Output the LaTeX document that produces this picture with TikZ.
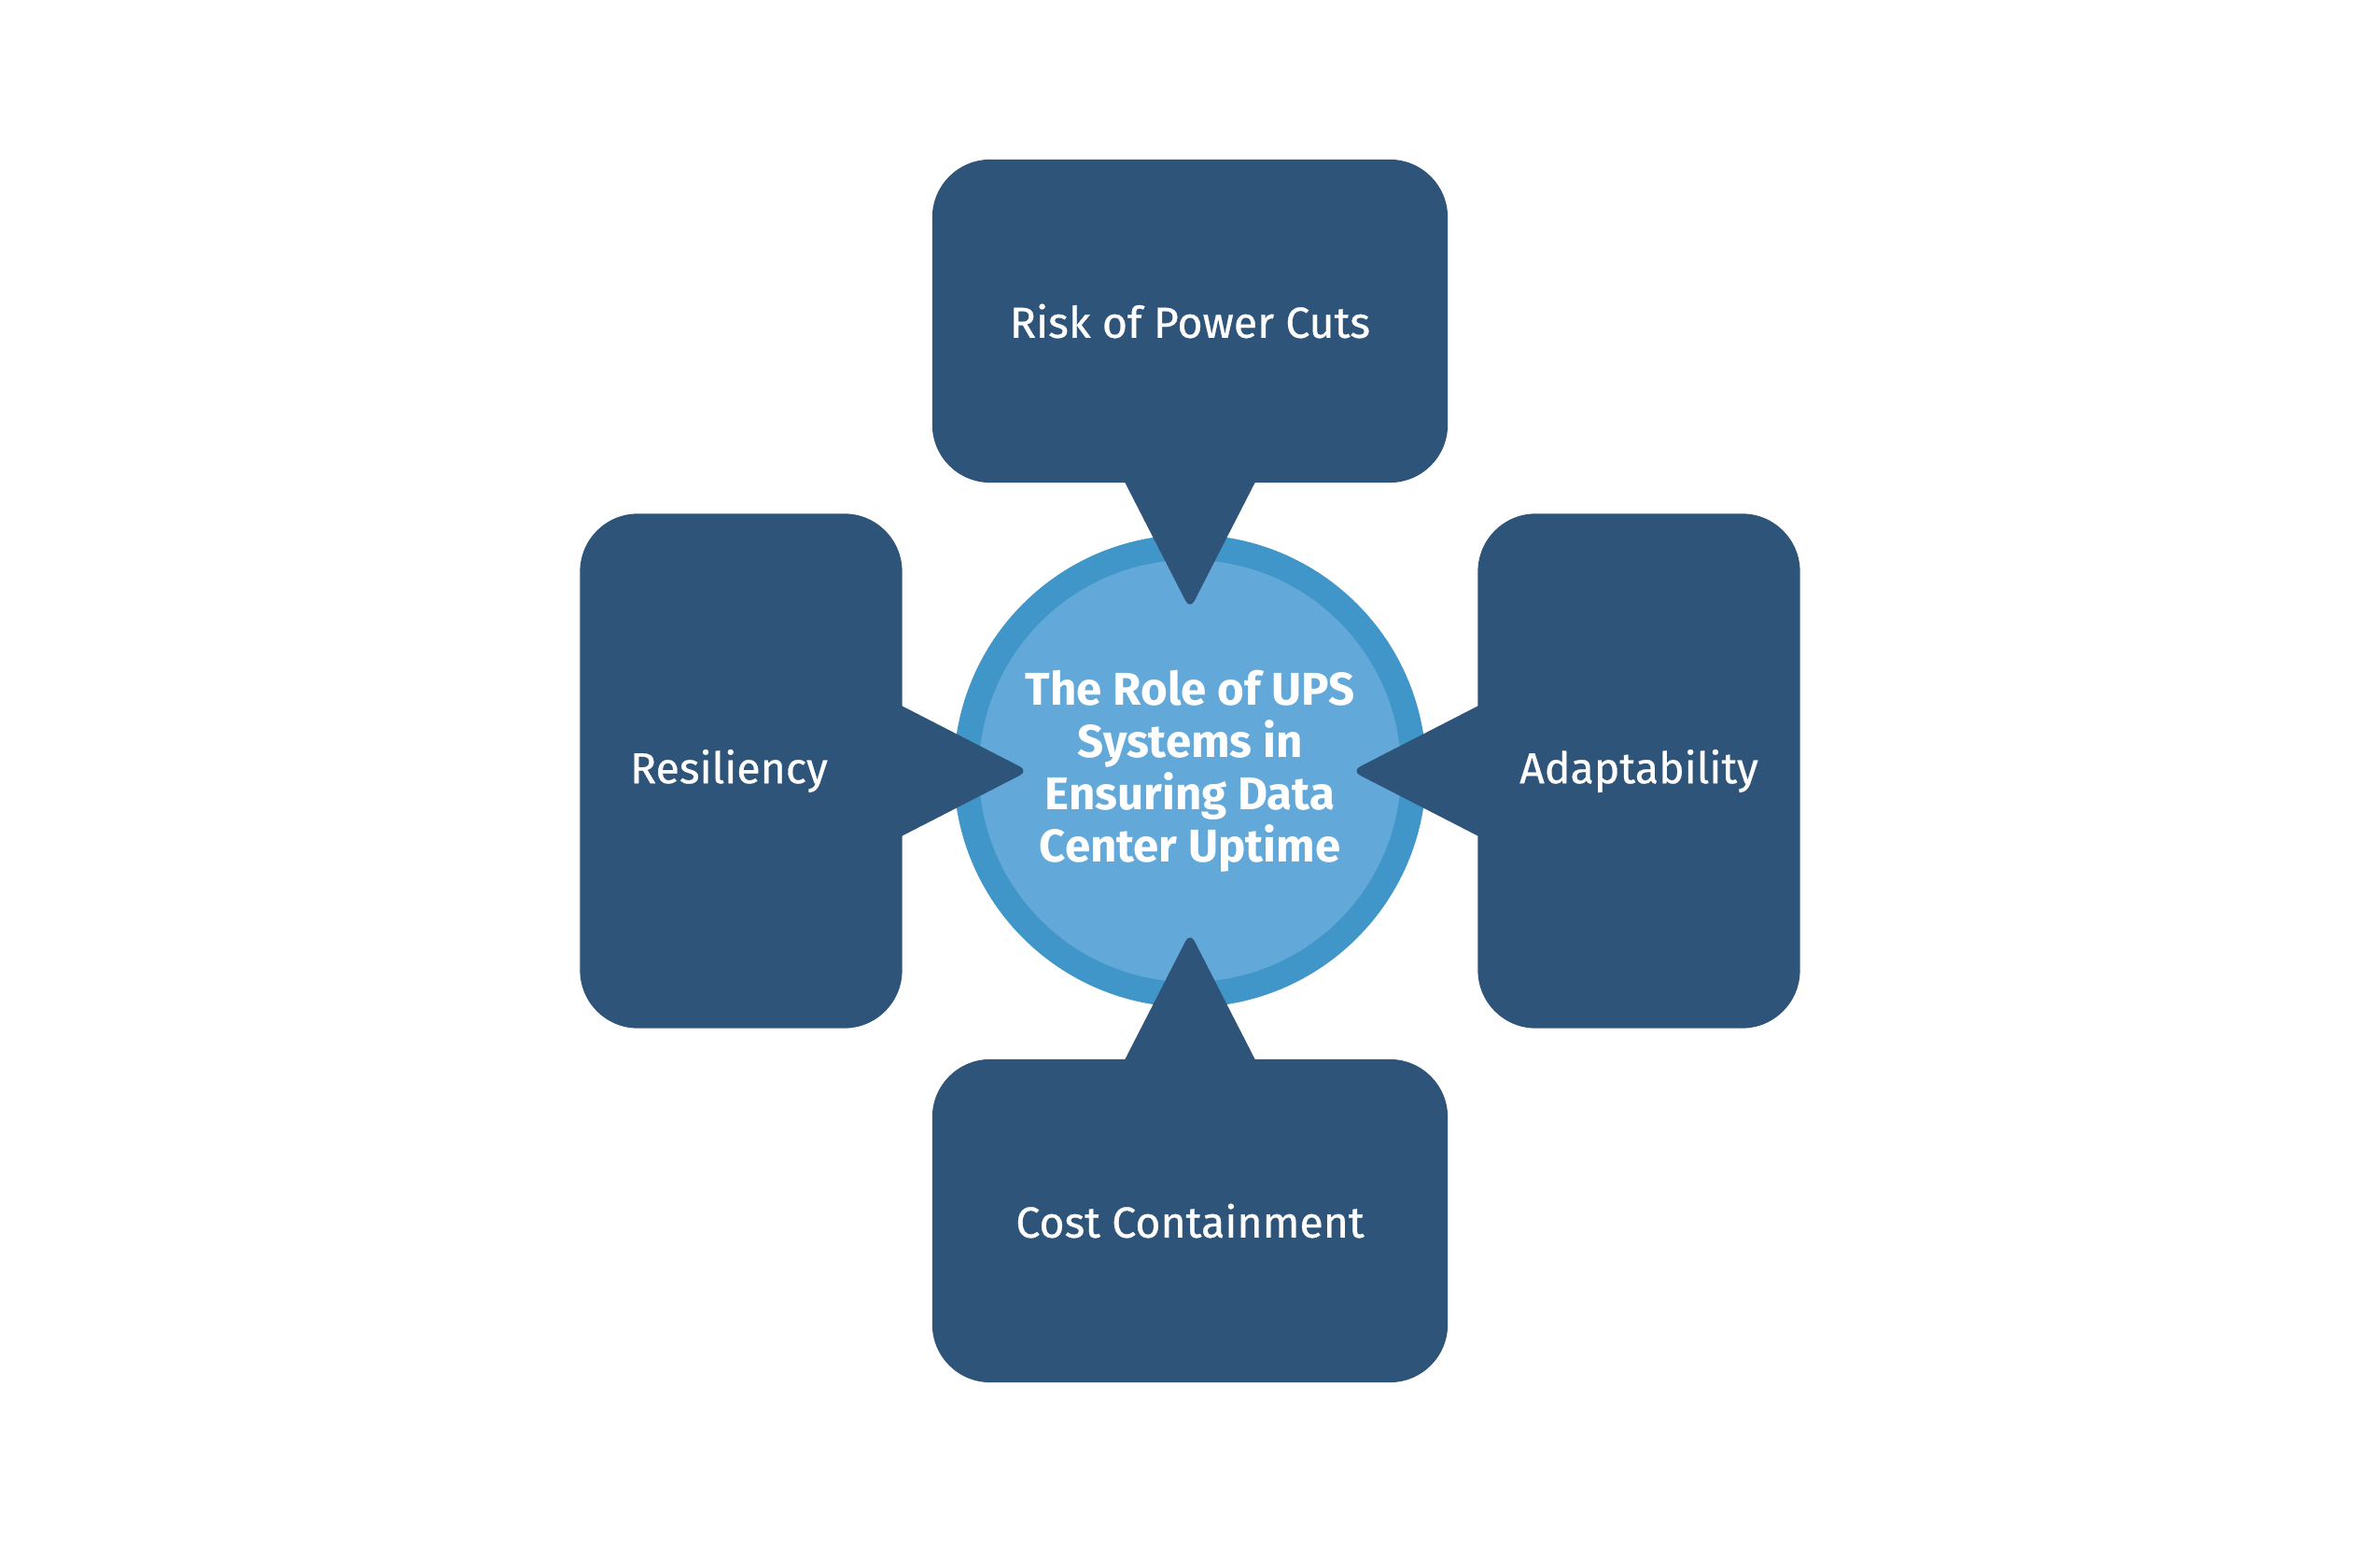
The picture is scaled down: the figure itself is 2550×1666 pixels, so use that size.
\documentclass[tikz,border=0pt]{standalone}
\usepackage{fontspec}
\setmainfont{Fira Sans}
\newfontfamily\labelFont{Fira Sans}[FakeBold=0.6]
\usetikzlibrary{calc}

\begin{document}
\begin{tikzpicture}[x=0.01cm, y=0.01cm]
    % Define colours
    \definecolor{boxColour}{HTML}{2F5479}
    \definecolor{ringColour}{HTML}{4096C8}
    \definecolor{hubColour}{HTML}{62A8D9}

    % Define pointer sizes
    \def\tipDist{173}
    \def\baseDepth{21}
    \def\baseHalf{80}

    \tikzset{
        topic/.style={rectangle, rounded corners=0.62cm, fill=boxColour, text=white, inner sep=0pt, font=\labelFont\fontsize{13.2}{15}\selectfont},
        wideTopic/.style={topic, minimum width=5.52cm, minimum height=3.46cm},
        tallTopic/.style={topic, minimum width=3.45cm, minimum height=5.51cm},
        hubStyle/.style={circle, fill=hubColour, draw=ringColour, line width=0.27cm, minimum size=4.79cm, inner sep=0pt, text=white, align=center, font=\bfseries\fontsize{14}{15.9}\selectfont}
    }

    \useasboundingbox (0,0) rectangle (2550,1666);

    % Draw hub
    \node[hubStyle] (hub) at (1275,840) {The Role of UPS\\Systems in\\Ensuring Data\\Center Uptime};

    % Draw topic boxes
    \node[wideTopic] (risk) at (1275,1322) {Risk of Power Cuts};
    \node[tallTopic] (resil) at (794,840) {Resiliency\hspace*{0.26cm}};
    \node[tallTopic] (adapt) at (1756,840) {Adaptability};
    \node[wideTopic] (cost) at (1275,358) {Cost Containment};

    % Draw pointers from boxes to hub
    \foreach \topicName/\ang/\opp in {risk/90/270, resil/180/0, adapt/0/180, cost/270/90} {
        \coordinate (tip\topicName) at ($(hub.center)+(\ang:\tipDist)$);
        \fill[boxColour, rounded corners=3pt]
            ($(\topicName.\opp)+(\ang:\baseDepth)+(\ang+90:\baseHalf)$) -- (tip\topicName)
            -- ($(\topicName.\opp)+(\ang:\baseDepth)+(\ang-90:\baseHalf)$) -- cycle;
    }

\end{tikzpicture}
\end{document}
